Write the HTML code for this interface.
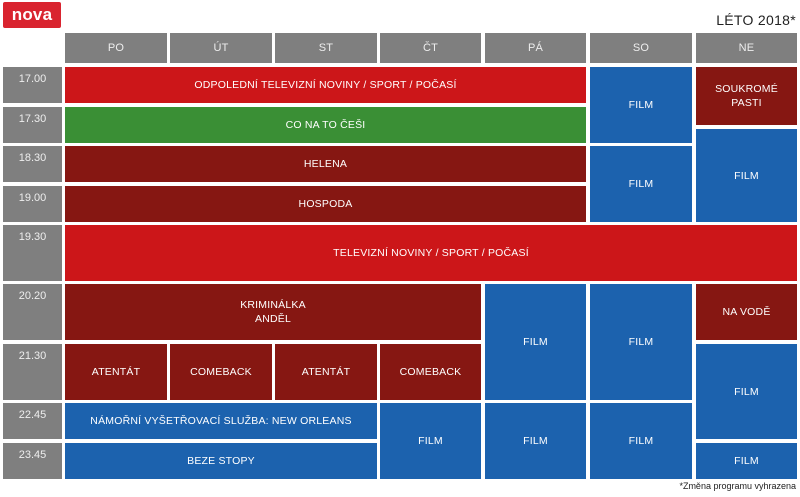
<!DOCTYPE html>
<html><head><meta charset="utf-8"><style>
body{margin:0;width:800px;height:497px;background:#fff;position:relative;overflow:hidden;font-family:"Liberation Sans",sans-serif}
.b{position:absolute;display:flex;align-items:center;justify-content:center;text-align:center;color:#fff;font-size:10.5px;line-height:14px;letter-spacing:.2px}
.h{background:#7f7f7f;color:#eee;font-size:11px}
.t{position:absolute;background:#7f7f7f;color:#eee;font-size:11px;text-align:center;padding-top:6px;box-sizing:border-box}
.r{background:#cc1619}.g{background:#3a8f35}.d{background:#861712}.u{background:#1c62ae}
</style></head><body>
<div class="b" style="left:3px;top:2px;width:58px;height:26px;background:#d9242f;font-weight:bold;font-size:17px;border-radius:2px">nova</div>
<div style="position:absolute;right:4px;top:12px;font-size:14px;color:#222;letter-spacing:.3px">LÉTO 2018*</div>
<div class="b h" style="left:65px;top:33px;width:102px;height:30px">PO</div>
<div class="b h" style="left:170px;top:33px;width:102px;height:30px">ÚT</div>
<div class="b h" style="left:275px;top:33px;width:102px;height:30px">ST</div>
<div class="b h" style="left:380px;top:33px;width:101px;height:30px">ČT</div>
<div class="b h" style="left:485px;top:33px;width:101px;height:30px">PÁ</div>
<div class="b h" style="left:590px;top:33px;width:102px;height:30px">SO</div>
<div class="b h" style="left:696px;top:33px;width:101px;height:30px">NE</div>

<div class="t" style="left:3px;top:67px;width:59px;height:36px">17.00</div>
<div class="t" style="left:3px;top:107px;width:59px;height:36px">17.30</div>
<div class="t" style="left:3px;top:146px;width:59px;height:36px">18.30</div>
<div class="t" style="left:3px;top:186px;width:59px;height:36px">19.00</div>
<div class="t" style="left:3px;top:225px;width:59px;height:56px">19.30</div>
<div class="t" style="left:3px;top:284px;width:59px;height:56px">20.20</div>
<div class="t" style="left:3px;top:344px;width:59px;height:56px">21.30</div>
<div class="t" style="left:3px;top:403px;width:59px;height:36px">22.45</div>
<div class="t" style="left:3px;top:443px;width:59px;height:36px">23.45</div>

<div class="b r" style="left:65px;top:67px;width:521px;height:36px">ODPOLEDNÍ TELEVIZNÍ NOVINY / SPORT / POČASÍ</div>
<div class="b g" style="left:65px;top:107px;width:521px;height:36px">CO NA TO ČEŠI</div>
<div class="b d" style="left:65px;top:146px;width:521px;height:36px">HELENA</div>
<div class="b d" style="left:65px;top:186px;width:521px;height:36px">HOSPODA</div>
<div class="b u" style="left:590px;top:67px;width:102px;height:76px">FILM</div>
<div class="b u" style="left:590px;top:146px;width:102px;height:76px">FILM</div>
<div class="b d" style="left:696px;top:67px;width:101px;height:58px">SOUKROMÉ<br>PASTI</div>
<div class="b u" style="left:696px;top:129px;width:101px;height:93px">FILM</div>
<div class="b r" style="left:65px;top:225px;width:732px;height:56px">TELEVIZNÍ NOVINY / SPORT / POČASÍ</div>
<div class="b d" style="left:65px;top:284px;width:416px;height:56px">KRIMINÁLKA<br>ANDĚL</div>
<div class="b u" style="left:485px;top:284px;width:101px;height:116px">FILM</div>
<div class="b u" style="left:590px;top:284px;width:102px;height:116px">FILM</div>
<div class="b d" style="left:696px;top:284px;width:101px;height:56px">NA VODĚ</div>
<div class="b d" style="left:65px;top:344px;width:102px;height:56px">ATENTÁT</div>
<div class="b d" style="left:170px;top:344px;width:102px;height:56px">COMEBACK</div>
<div class="b d" style="left:275px;top:344px;width:102px;height:56px">ATENTÁT</div>
<div class="b d" style="left:380px;top:344px;width:101px;height:56px">COMEBACK</div>
<div class="b u" style="left:696px;top:344px;width:101px;height:95px">FILM</div>
<div class="b u" style="left:65px;top:403px;width:312px;height:36px">NÁMOŘNÍ VYŠETŘOVACÍ SLUŽBA: NEW ORLEANS</div>
<div class="b u" style="left:65px;top:443px;width:312px;height:36px">BEZE STOPY</div>
<div class="b u" style="left:380px;top:403px;width:101px;height:76px">FILM</div>
<div class="b u" style="left:485px;top:403px;width:101px;height:76px">FILM</div>
<div class="b u" style="left:590px;top:403px;width:102px;height:76px">FILM</div>
<div class="b u" style="left:696px;top:443px;width:101px;height:36px">FILM</div>
<div style="position:absolute;right:4px;top:481px;font-size:9px;color:#222">*Změna programu vyhrazena</div>
</body></html>
